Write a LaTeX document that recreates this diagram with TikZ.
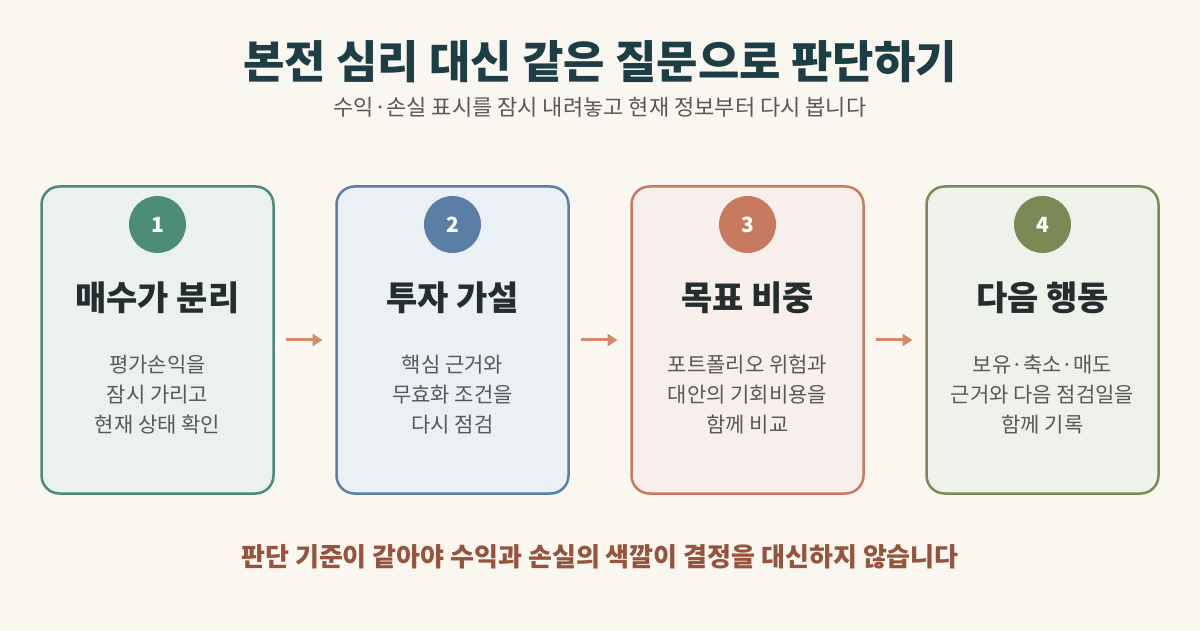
\documentclass[tikz,border=0pt]{standalone}
\usepackage{fontspec}
\setmainfont{Noto Sans CJK KR}
\usepackage{xcolor}
\usepackage{tikz}
\usetikzlibrary{arrows.meta, positioning}
\definecolor{bgcream}{RGB}{250, 247, 240}
\definecolor{titleteal}{RGB}{30, 62, 70}
\definecolor{inkdark}{RGB}{36, 46, 46}
\definecolor{bodygray}{RGB}{88, 88, 88}
\definecolor{cardgreen}{RGB}{78, 140, 122}
\definecolor{cardblue}{RGB}{90, 126, 166}
\definecolor{cardterra}{RGB}{200, 122, 96}
\definecolor{cardolive}{RGB}{122, 138, 86}
\definecolor{arrowclay}{RGB}{212, 137, 107}
\definecolor{notebrown}{RGB}{150, 84, 62}

\begin{document}
\begin{tikzpicture}[x=1pt, y=1pt,
    card/.style={draw=#1, line width=2.5pt, rounded corners=18pt, fill=#1!12,
                 minimum width=232pt, minimum height=307pt, inner sep=0pt, outer sep=0pt},
    badge/.style={circle, fill=#1, minimum size=57pt, inner sep=0pt, text=white,
                  font=\fontsize{21}{24}\selectfont\bfseries},
    heading/.style={text=inkdark, font=\fontsize{34}{40}\selectfont\bfseries},
    body/.style={text=bodygray, align=center, font=\fontsize{21}{30}\selectfont},
    flow/.style={draw=arrowclay, line width=3pt, -{Triangle[length=10pt, width=12pt]}}
]
    % canvas
    \fill[bgcream] (0,0) rectangle (1200,630);
    \useasboundingbox (0,0) rectangle (1200,630);

    % title and subtitle
    \node[text=titleteal, font=\fontsize{45}{52}\selectfont\bfseries] (title) at (600,568) {본전 심리 대신 같은 질문으로 판단하기};
    \node[text=bodygray, font=\fontsize{22}{26}\selectfont] (subtitle) at (600,523) {수익·손실 표시를 잠시 내려놓고 현재 정보부터 다시 봅니다};

    % cards
    \node[card=cardgreen] (card1) at (157.5,290) {};
    \node[card=cardblue, right=63pt of card1] (card2) {};
    \node[card=cardterra, right=63pt of card2] (card3) {};
    \node[card=cardolive, right=63pt of card3] (card4) {};

    % badges
    \node[badge=cardgreen] (num1) at ([yshift=-38pt]card1.north) {1};
    \node[badge=cardblue] (num2) at ([yshift=-38pt]card2.north) {2};
    \node[badge=cardterra] (num3) at ([yshift=-38pt]card3.north) {3};
    \node[badge=cardolive] (num4) at ([yshift=-38pt]card4.north) {4};

    % headings
    \node[heading, below=25pt of num1] (head1) {매수가 분리};
    \node[heading, below=25pt of num2] (head2) {투자 가설};
    \node[heading, below=25pt of num3] (head3) {목표 비중};
    \node[heading, below=25pt of num4] (head4) {다음 행동};

    % descriptions
    \node[body] (text1) at ([yshift=-55pt]card1.center) {평가손익을\\잠시 가리고\\현재 상태 확인};
    \node[body] (text2) at ([yshift=-55pt]card2.center) {핵심 근거와\\무효화 조건을\\다시 점검};
    \node[body] (text3) at ([yshift=-55pt]card3.center) {포트폴리오 위험과\\대안의 기회비용을\\함께 비교};
    \node[body] (text4) at ([yshift=-55pt]card4.center) {보유·축소·매도\\근거와 다음 점검일을\\함께 기록};

    % arrows
    \draw[flow] ([xshift=12pt]card1.east) -- ([xshift=-14pt]card2.west);
    \draw[flow] ([xshift=12pt]card2.east) -- ([xshift=-14pt]card3.west);
    \draw[flow] ([xshift=12pt]card3.east) -- ([xshift=-14pt]card4.west);

    % closing note
    \node[text=notebrown, font=\fontsize{26}{30}\selectfont\bfseries] (note) at (600,73) {판단 기준이 같아야 수익과 손실의 색깔이 결정을 대신하지 않습니다};
\end{tikzpicture}
\end{document}
